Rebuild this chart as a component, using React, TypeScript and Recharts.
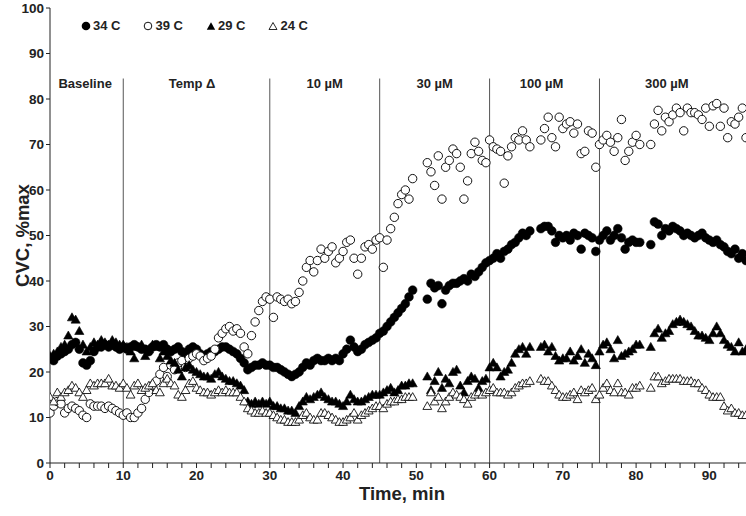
import React from 'react';
import { ScatterChart, Scatter, XAxis, YAxis, ReferenceLine, ReferenceDot } from 'recharts';

// time (min) of each sample
const times = [
  0, 0.5, 1, 1.5, 2, 2.5, 3, 3.5, 4, 4.5,
  5, 5.5, 6, 6.5, 7, 7.5, 8, 8.5, 9, 9.5,
  10, 10.5, 11, 11.5, 12, 12.5, 13, 13.5, 14, 14.5,
  15, 15.5, 16, 16.5, 17, 17.5, 18, 18.5, 19, 19.5,
  20, 20.5, 21, 21.5, 22, 22.5, 23, 23.5, 24, 24.5,
  25, 25.5, 26, 26.5, 27, 27.5, 28, 28.5, 29, 29.5,
  30, 30.5, 31, 31.5, 32, 32.5, 33, 33.5, 34, 34.5,
  35, 35.5, 36, 36.5, 37, 37.5, 38, 38.5, 39, 39.5,
  40, 40.5, 41, 41.5, 42, 42.5, 43, 43.5, 44, 44.5,
  45, 45.5, 46, 46.5, 47, 47.5, 48, 48.5, 49, 49.5,
  51.5, 52, 52.5, 53, 53.5, 54, 54.5,
  55, 55.5, 56, 56.5, 57, 57.5, 58, 58.5, 59, 59.5,
  60, 60.5, 61, 61.5, 62, 62.5, 63, 63.5, 64, 64.5,
  65, 65.5, 67, 67.5, 68, 68.5, 69, 69.5,
  70, 70.5, 71, 71.5, 72, 72.5, 73, 73.5, 74, 74.5,
  75, 75.5, 76, 76.5, 77, 77.5, 78, 78.5, 79, 79.5,
  80, 80.5, 82, 82.5, 83, 83.5, 84, 84.5,
  85, 85.5, 86, 86.5, 87, 87.5, 88, 88.5, 89, 89.5,
  90, 90.5, 91, 91.5, 92, 92.5, 93, 93.5, 94, 94.5, 95,
];

const cvc34 = [
  23, 22.5, 23.5, 24, 24.5, 25, 26, 26.5, 25, 22,
  21.5, 22.5, 24.5, 25.5, 25.5, 26, 25.5, 26, 25.5, 25,
  25.5, 25, 25.5, 26, 25.5, 25, 25, 24.5, 25.5, 26,
  25.5, 26, 25, 24.5, 25, 25.5, 24.5, 24, 25, 25.5,
  25, 24, 23.5, 24, 24.5, 24.5, 25, 25.5, 25.5, 25,
  24.5, 24, 23, 22, 20.5, 21, 21.5, 21.5, 22, 21.5,
  21.5, 21, 21, 20.5, 20, 19.5, 19, 19.5, 20, 21,
  22, 21.5, 22.5, 23, 22.5, 22.5, 23, 22.5, 23, 22.5,
  24, 25, 27, 25.5, 24.5, 25, 26, 26.5, 27, 27.5,
  28.5, 29, 30, 31, 32, 33, 34, 35, 36.5, 38,
  36, 39.5, 38.5, 39, 35, 38, 39,
  39.5, 39.5, 40, 40.5, 40, 41.5, 41, 42, 43, 44,
  44.5, 45, 46, 45, 46.5, 47, 48, 48.5, 49.5, 50.5,
  50, 51, 51.5, 52, 52, 51, 48.5, 50,
  49.5, 50, 49, 50.5, 50, 47, 50.5, 50, 49.5, 46.5,
  49, 50, 51, 49, 50, 51.5, 49.5, 47, 48.5, 49,
  48.5, 48.5, 48, 53, 52.5, 50, 51.5, 51,
  52, 51.5, 51, 50, 50.5, 50, 49.5, 50, 50.5, 49.5,
  49, 48.5, 49, 48, 47.5, 46.5, 46, 47, 45, 46, 44.5,
];

const cvc39 = [
  11, 12.5, 13.5, 13, 11, 12, 12.5, 12, 11.5, 10.5,
  10, 13, 12.5, 12.5, 12.5, 12, 12.5, 12, 11.5, 11,
  10.5, 11, 10, 10, 11, 12, 14, 15.5, 17, 18,
  19.5, 21, 19, 21.5, 20.5, 22, 22.5, 21, 23, 23.5,
  24, 23.5, 22.5, 23, 23.5, 25, 27.5, 28.5, 29.5, 30,
  29, 29.5, 28.5, 25.5, 24, 28, 31, 33.5, 35.5, 36.5,
  36, 32, 36.5, 36, 35.5, 36, 35, 35.5, 37.5, 40,
  43, 44.5, 42, 44.5, 47, 45, 46.5, 47.5, 44, 45,
  46.5, 48.5, 49, 45, 41.5, 45, 47.5, 48, 47, 49,
  49.5, 43, 49, 51.5, 54, 57, 59, 60, 58, 62.5,
  66, 64, 61, 67.5, 58, 65, 66.5,
  69, 68, 65, 58, 62, 68, 70.5, 68.5, 66.5, 66,
  71, 69.5, 69, 68.5, 61.5, 67.5, 69.5, 71.5, 71, 73,
  71, 69.5, 71, 73.5, 76, 71.5, 69.5, 76,
  73.5, 74.5, 75, 72.5, 74.5, 68, 68.5, 73, 72.5, 65,
  70, 71, 72, 70.5, 68.5, 71.5, 75.5, 66.5, 68.5, 70.5,
  72, 70, 70, 74.5, 77.5, 73, 76, 75,
  76.5, 78, 77, 73, 78, 77, 77, 76.5, 75.5, 78,
  74, 78.5, 79, 74, 78, 71.5, 75, 74.5, 76, 78, 71.5,
];

const cvc29 = [
  23.5, 24, 24.5, 25.5, 26, 28, 32, 31.5, 29, 26,
  24.5, 25.5, 26.5, 26, 27, 26.5, 26, 27, 26.5, 26,
  26, 25.5, 24.5, 23, 25.5, 26, 23.5, 25, 26, 25.5,
  23, 24.5, 23.5, 22.5, 22, 20.5, 19, 21, 21.5, 20.5,
  20, 19.5, 19, 19, 18.5, 19.5, 20, 19, 18.5, 18,
  18, 17.5, 17, 16, 13.5, 13, 13.5, 13, 13.5, 13,
  13.5, 12.5, 12.5, 12, 12, 11.5, 11.5, 11, 12.5, 13.5,
  14.5, 14, 14.5, 15, 15.5, 14.5, 14, 13.5, 13.5, 13,
  12.5, 13.5, 15, 14, 13.5, 13.5, 14, 14.5, 15, 15,
  15, 15.5, 16, 16.5, 15.5, 16, 17, 17, 17.5, 17.5,
  19, 16, 18, 20, 16.5, 18.5, 17.5,
  20, 20.5, 17, 15.5, 18, 19, 18.5, 16.5, 18, 18.5,
  21, 22, 21, 19, 20, 20.5, 22, 24, 25, 25.5,
  24, 25.5, 25.5, 26, 24.5, 25.5, 23.5, 22.5,
  23, 23, 24.5, 22.5, 23.5, 25, 22, 24, 23, 21.5,
  24.5, 26, 26.5, 25, 23, 27, 23.5, 24, 24.5, 25,
  26, 26, 25.5, 28.5, 29.5, 27.5, 28.5, 29,
  30.5, 31, 31.5, 31, 30.5, 30, 29, 28, 28, 27.5,
  27, 28.5, 30, 28.5, 27, 26, 25.5, 24.5, 26.5, 24.5, 25,
];

const cvc24 = [
  14.5, 13.5, 15.5, 14.5, 15.5, 16, 17, 16.5, 15.5, 14.5,
  16, 17.5, 17, 17.5, 17.5, 17.5, 18.5, 17, 17, 16.5,
  17.5, 16.5, 15, 17, 17.5, 16, 16.5, 17, 17.5, 16,
  15.5, 17.5, 18.5, 17.5, 17, 15, 14.5, 16, 17.5, 18,
  16.5, 16, 15.5, 15.5, 15, 15.5, 16, 15.5, 16, 15.5,
  15.5, 15.5, 14.5, 13.5, 12, 11.5, 11, 11, 11.5, 11,
  11, 10.5, 10, 9.5, 9.5, 9, 9, 9, 9.5, 10.5,
  11, 10, 9.5, 9.5, 11, 11, 10.5, 10, 9.5, 9,
  9, 9.5, 10, 11, 9.5, 10.5, 11, 11.5, 12, 12.5,
  12.5, 12, 13, 13.5, 13.5, 14, 14, 14.5, 14.5, 14.5,
  12.5, 15.5, 13.5, 14.5, 12, 13.5, 14.5,
  15.5, 15, 14.5, 14, 13, 14.5, 15, 15.5, 15, 15.5,
  16, 16.5, 15.5, 15.5, 15.5, 15, 15.5, 16.5, 17, 17.5,
  17.5, 18, 18.5, 18, 18, 17, 16, 15,
  14.5, 14.5, 15, 15.5, 14, 16, 15.5, 16, 16.5, 14,
  15, 16.5, 17.5, 16, 15.5, 17.5, 15.5, 15.5, 15, 16.5,
  16.5, 17, 16.5, 19, 19, 17.5, 18, 18.5,
  18.5, 18.5, 18.5, 18, 18, 18, 17.5, 17.5, 16.5, 16,
  15, 14.5, 14.5, 14.5, 12.5, 11.5, 12, 11, 11, 10.5, 10.5,
];

const seriesNames = ['34 C', '39 C', '29 C', '24 C'];
const xTicks = [0, 2, 4, 6, 8, 10, 12, 14, 16, 18, 20, 22, 24, 26, 28, 30, 32, 34, 36, 38, 40, 42, 44, 46, 48, 50, 52, 54, 56, 58, 60, 62, 64, 66, 68, 70, 72, 74, 76, 78, 80, 82, 84, 86, 88, 90, 92, 94];
const yTicks = [0, 10, 20, 30, 40, 50, 60, 70, 80, 90, 100];
const phaseBoundaries = [10, 30, 45, 60, 75];
const phaseLabels = ['Baseline', 'Temp \u0394', '10 \u00b5M', '30 \u00b5M', '100 \u00b5M', '300 \u00b5M'];
const phaseCenters = [4.8, 19.4, 37.5, 52.5, 67.1, 84.2];
const phaseLabelLevel = 83.5;
const phaseLineTop = 84.5;

const FONT = '"Liberation Sans", Arial, Helvetica, sans-serif';

const toPoints = (vals: number[]) => times.map((t, i) => ({ t, v: vals[i] }));

const FilledCircle = (p: any) => <circle cx={p.cx} cy={p.cy} r={4.4} fill="#000" stroke="#000" strokeWidth={0.5} />;
const OpenCircle = (p: any) => <circle cx={p.cx} cy={p.cy} r={4.2} fill="#fff" stroke="#111" strokeWidth={1} />;
const triPts = (cx: number, cy: number, s: number) => `${cx},${cy - s} ${cx + s},${cy + s * 0.75} ${cx - s},${cy + s * 0.75}`;
const FilledTri = (p: any) => <polygon points={triPts(p.cx, p.cy, 4.6)} fill="#000" stroke="#000" strokeWidth={0.6} />;
const OpenTri = (p: any) => <polygon points={triPts(p.cx, p.cy, 4.4)} fill="#fff" stroke="#111" strokeWidth={0.9} />;

const legendIcons = [
  <circle cx={5} cy={5} r={4.3} fill="#000" />,
  <circle cx={5} cy={5} r={3.8} fill="#fff" stroke="#111" strokeWidth={1} />,
  <polygon points={triPts(5, 5.5, 4.2)} fill="#000" />,
  <polygon points={triPts(5, 5.5, 4)} fill="#fff" stroke="#111" strokeWidth={0.9} />,
];

const xTickFmt = (v: number) => (v % 10 === 0 ? String(v) : '');

const YLabel = (props: any) => {
  const vb = props.viewBox || { x: 0, y: 8, width: 50, height: 455 };
  const cx = vb.x + 22;
  const cy = vb.y + vb.height / 2;
  return (
    <text x={cx} y={cy} transform={`rotate(-90 ${cx} ${cy})`} textAnchor="middle" dominantBaseline="central"
      style={{ fontFamily: FONT, fontWeight: 700, fontSize: 18.5, fill: '#222' }}>CVC, %max</text>
  );
};

const XLabel = (props: any) => {
  const vb = props.viewBox || { x: 50, y: 463, width: 696, height: 53 };
  const cx = vb.x + vb.width / 2 + 4;
  return (
    <text x={cx} y={vb.y + 30} textAnchor="middle" dominantBaseline="central"
      style={{ fontFamily: FONT, fontWeight: 700, fontSize: 18.5, fill: '#222' }}>Time, min</text>
  );
};

export default function App() {
  const d34 = toPoints(cvc34);
  const d39 = toPoints(cvc39);
  const d29 = toPoints(cvc29);
  const d24 = toPoints(cvc24);
  const tickStyle = { fontFamily: FONT, fontWeight: 700, fontSize: 13.5, fill: '#222' };
  return (
    <div style={{ position: 'absolute', left: 0, top: 0, width: 746, height: 516, background: '#fff' }}>
      <ScatterChart width={746} height={516} margin={{ top: 8, right: 0, bottom: 0, left: 0 }}>
        <XAxis type="number" dataKey="t" domain={[0, 95]} ticks={xTicks} interval={0} tickFormatter={xTickFmt}
          height={53} tickSize={5} tickMargin={2} stroke="#222" tick={tickStyle} allowDataOverflow
          label={<XLabel />} />
        <YAxis type="number" dataKey="v" domain={[0, 100]} ticks={yTicks} interval={0} width={50}
          tickSize={4} tickMargin={2} stroke="#222" tick={tickStyle} allowDataOverflow label={<YLabel />} />
        {phaseBoundaries.map((b) => (
          <ReferenceLine key={'b' + b} segment={[{ x: b, y: 0 }, { x: b, y: phaseLineTop }]} stroke="#555" strokeWidth={1} />
        ))}
        {phaseLabels.map((lab, i) => (
          <ReferenceDot key={'l' + i} x={phaseCenters[i]} y={phaseLabelLevel} r={0} fill="none" stroke="none"
            label={{ value: lab, position: 'center', style: { fontFamily: FONT, fontWeight: 700, fontSize: 13, fill: '#222' } }} />
        ))}
        <Scatter name={seriesNames[0]} data={d34} shape={FilledCircle} isAnimationActive={false} />
        <Scatter name={seriesNames[1]} data={d39} shape={OpenCircle} isAnimationActive={false} />
        <Scatter name={seriesNames[2]} data={d29} shape={FilledTri} isAnimationActive={false} />
        <Scatter name={seriesNames[3]} data={d24} shape={OpenTri} isAnimationActive={false} />
      </ScatterChart>
      <div style={{ position: 'absolute', left: 81, top: 18, display: 'flex', gap: 23, fontFamily: FONT, fontWeight: 700, fontSize: 13, color: '#222', lineHeight: '16px' }}>
        {seriesNames.map((n, i) => (
          <div key={n} style={{ display: 'flex', alignItems: 'center' }}>
            <svg width={10} height={10} style={{ marginRight: 2 }}>{legendIcons[i]}</svg>
            <span>{n}</span>
          </div>
        ))}
      </div>
    </div>
  );
}
